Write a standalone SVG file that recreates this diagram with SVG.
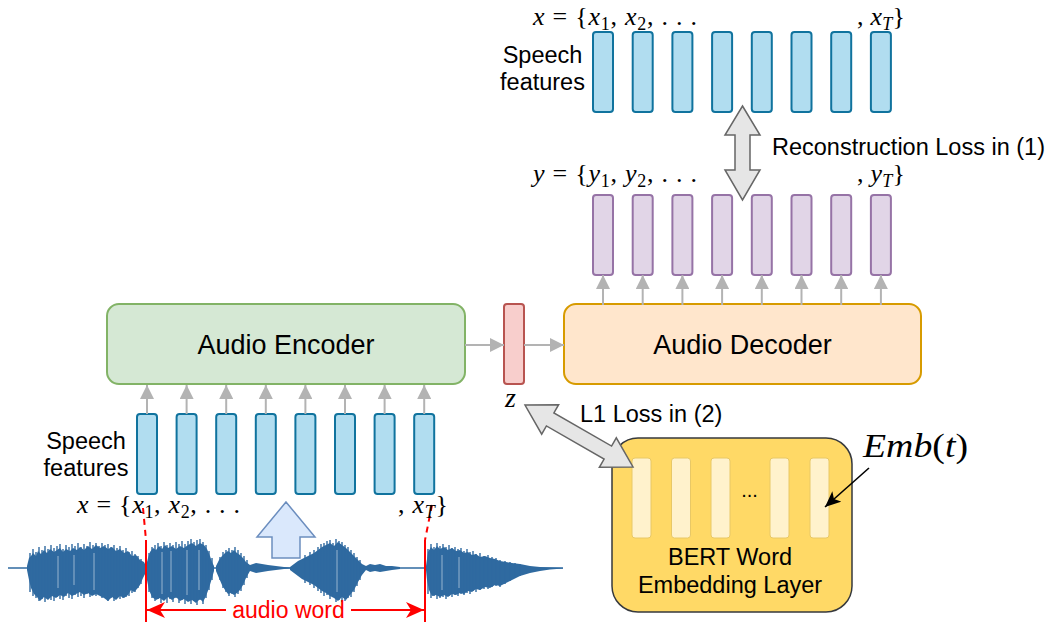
<svg xmlns="http://www.w3.org/2000/svg" width="1052" height="625" viewBox="0 0 1052 625">
<defs>
<style>
.sans{font-family:"Liberation Sans",Arial,sans-serif;fill:#000}
.math{font-family:"Liberation Serif","DejaVu Serif",serif;fill:#000}
.it{font-style:italic}
.feat{fill:#b1ddf0;stroke:#10739e;stroke-width:2}
.dec{fill:#e1d5e7;stroke:#9673a6;stroke-width:2}
.emb{fill:#fff2cc;stroke:#e8c866;stroke-width:1}
.garrow{stroke:#b3b3b3;stroke-width:2;fill:none;marker-end:url(#gh)}
.wave{fill:#2f6aa0}
.red{stroke:#ff0000;stroke-width:2;fill:none}
</style>
<marker id="gh" markerUnits="userSpaceOnUse" markerWidth="16" markerHeight="14" refX="14" refY="7" orient="auto">
<path d="M0,0 L14,7 L0,14 Z" fill="#b3b3b3"/>
</marker>
<marker id="rh" markerUnits="userSpaceOnUse" markerWidth="20" markerHeight="18" refX="18" refY="9" orient="auto">
<path d="M0,1 L18,9 L0,17 L5,9 Z" fill="#ff0000"/>
</marker>
<marker id="bh" markerUnits="userSpaceOnUse" markerWidth="18" markerHeight="14" refX="16" refY="7" orient="auto">
<path d="M0,0 L16,7 L0,14 L4,7 Z" fill="#000"/>
</marker>
</defs>
<rect width="1052" height="625" fill="#fff"/>

<!-- waveform -->
<g id="waveform">
<line x1="8" y1="568" x2="563" y2="568" stroke="#2f6aa0" stroke-width="1.6"/>
<polygon class="wave" points="27,566 29,558 31,556 33,553 36,556 38,551 41,554 44,550 47,553 50,549 54,552 57,550 60,548 63,552 66,549 70,551 73,548 77,550 80,547 84,550 88,546 92,549 96,545 100,548 104,546 108,549 112,547 116,551 120,549 124,553 128,551 132,556 136,555 140,560 144,562 146,566 146,572 143,578 140,585 137,589 134,592 131,590 128,595 124,598 120,596 116,600 112,597 108,601 104,598 100,596 96,594 92,596 88,593 84,595 80,592 76,594 72,596 68,593 64,597 60,595 56,598 52,596 48,600 44,597 40,601 37,597 34,594 31,588 29,580 27,570"/>
<polygon class="wave" points="146,566 148,558 150,552 153,548 156,550 159,546 162,549 165,545 168,548 172,546 176,549 180,546 184,548 188,545 192,543 196,546 200,543 204,545 207,549 210,556 212,562 214,566 214,571 212,578 209,588 206,596 203,602 200,599 196,603 192,600 188,602 184,599 180,601 176,597 172,600 168,597 164,601 160,598 156,600 152,597 149,590 147,580 146,572"/>
<polygon class="wave" points="216,566 219,560 222,556 225,553 228,551 231,553 234,550 237,553 240,555 243,558 246,562 250,565 256,563 262,564 268,565 276,566 284,567 290,567.5 290,568.5 284,569 276,570 268,571 262,572 256,573 250,571 246,578 243,585 240,590 237,593 234,595 231,593 228,594 225,590 222,585 219,578 216,571"/>
<polygon class="wave" points="290,567 294,564 298,561 302,559 306,557 310,555 314,553 318,550 322,547 326,545 330,543 334,546 338,542 342,545 346,548 350,552 354,556 358,560 362,564 366,566 370,564 375,565 380,564 386,566 392,566 400,567 400,569 392,570 386,571 380,572 375,571 370,572 366,570 362,575 358,582 354,590 350,595 346,600 342,597 338,601 334,598 330,596 326,593 322,591 318,588 314,585 310,583 306,581 302,579 298,576 294,573 290,570"/>
<polygon class="wave" points="426,566 428,552 431,547 434,550 437,546 440,549 444,547 448,550 452,548 456,551 460,550 464,553 468,552 472,555 476,554 480,557 485,556 490,558 495,559 500,561 506,562 512,563 520,564 530,566 540,567 550,567.5 563,568 563,568.5 550,569.5 540,571 530,573 520,576 512,580 506,583 500,586 495,585 490,588 485,587 480,590 476,589 472,592 468,591 464,594 460,593 456,595 452,594 448,597 444,595 440,597 436,595 432,596 429,590 427,580 426,570"/>
<path stroke="#2f6aa0" stroke-width="1.4" fill="none" d="M30,553V592M33,549V596M36,552V598M39,547V601M42,550V599M45,546V602M48,549V598M51,545V600M54,548V601M57,546V597M60,544V599M63,549V600M66,545V596M69,547V598M72,544V599M75,546V595M78,543V597M81,547V596M84,544V598M87,546V594M90,542V597M93,545V595M96,543V596M99,546V593M102,543V598M105,545V596M108,544V601M111,547V598M114,545V601M117,548V597M120,546V599M123,550V598M126,548V597M129,552V596M132,551V593M135,554V592M138,556V588M141,559V584M149,553V592M152,547V598M155,545V601M158,543V599M161,546V603M164,542V600M167,545V603M170,543V599M173,545V602M176,542V598M179,544V603M182,541V600M185,544V604M188,541V601M191,539V604M194,542V601M197,540V605M200,539V600M203,542V604M206,545V598M209,551V590M212,558V580M220,557V580M223,552V588M226,550V592M229,548V596M232,550V594M235,547V597M238,550V594M241,553V591M244,556V585M247,560V578M305,555V583M310,552V585M314,550V588M318,547V591M321,544V593M324,543V596M327,541V595M330,540V599M333,543V597M336,539V602M339,541V600M342,542V602M345,545V601M348,547V598M351,550V597M354,553V592M357,557V586M360,560V580M428,549V594M431,544V598M434,547V596M437,543V599M440,546V598M443,544V597M446,547V599M449,545V596M452,548V597M455,547V595M458,549V596M461,548V594M464,551V595M467,549V593M470,552V594M473,551V591M476,554V592M480,553V590M484,556V589M488,555V589M492,557V587M496,558V586M500,560V587M505,561V584M510,562V581M515,563V578M520,564V576"/>
<g stroke="#fff" stroke-width="1" opacity="0.5">
<line x1="58" y1="556" x2="58" y2="588"/><line x1="74" y1="555" x2="74" y2="585"/><line x1="94" y1="553" x2="94" y2="590"/>
<line x1="162" y1="552" x2="162" y2="594"/><line x1="171" y1="551" x2="171" y2="592"/><line x1="187" y1="550" x2="187" y2="595"/><line x1="199" y1="550" x2="199" y2="590"/>
<line x1="337" y1="550" x2="337" y2="592"/><line x1="442" y1="555" x2="442" y2="590"/><line x1="459" y1="557" x2="459" y2="588"/>
</g>
</g>

<!-- big input arrow -->
<g id="input-arrow">
<polygon points="286,502 315,537 300,537 300,558 272,558 272,537 257,537" fill="#dae8fc" stroke="#6c8ebf" stroke-width="1.5"/>
</g>

<!-- audio word span -->
<g id="audio-word">
<line class="red" x1="143" y1="508" x2="146" y2="540" stroke-dasharray="6,5"/>
<line class="red" x1="146" y1="540" x2="146" y2="622"/>
<line class="red" x1="432" y1="505" x2="425" y2="540" stroke-dasharray="6,5"/>
<line class="red" x1="425" y1="540" x2="425" y2="622"/>
<line class="red" x1="226" y1="610" x2="147" y2="610" marker-end="url(#rh)"/>
<line class="red" x1="351" y1="610" x2="424" y2="610" marker-end="url(#rh)"/>
<text x="288.5" y="618" class="sans" font-size="23" text-anchor="middle" style="fill:#ff0000">audio word</text>
</g>

<!-- input speech features -->
<g id="input-features">
<rect class="feat" x="137" y="414" width="20" height="80" rx="3"/>
<rect class="feat" x="176.6" y="414" width="20" height="80" rx="3"/>
<rect class="feat" x="216.2" y="414" width="20" height="80" rx="3"/>
<rect class="feat" x="255.8" y="414" width="20" height="80" rx="3"/>
<rect class="feat" x="295.4" y="414" width="20" height="80" rx="3"/>
<rect class="feat" x="335" y="414" width="20" height="80" rx="3"/>
<rect class="feat" x="374.6" y="414" width="20" height="80" rx="3"/>
<rect class="feat" x="414.2" y="414" width="20" height="80" rx="3"/>
<text class="sans" font-size="23.5" text-anchor="middle"><tspan x="86" y="449">Speech</tspan><tspan x="86" y="476">features</tspan></text>
<text class="math" font-size="26" x="77" y="513" textLength="163" lengthAdjust="spacing"><tspan class="it">x</tspan> = {<tspan class="it">x</tspan><tspan font-size="18" dy="5">1</tspan><tspan dy="-5">, </tspan><tspan class="it">x</tspan><tspan font-size="18" dy="5">2</tspan><tspan dy="-5">, . . .</tspan></text>
<text class="math" font-size="26" x="398" y="513" textLength="50" lengthAdjust="spacing">, <tspan class="it">x</tspan><tspan font-size="18" dy="5" class="it">T</tspan><tspan dy="-5">}</tspan></text>
</g>

<!-- encoder -->
<g id="audio-encoder">
<rect x="107" y="304" width="358" height="80" rx="12" fill="#d5e8d4" stroke="#82b366" stroke-width="2"/>
<text x="286" y="354" class="sans" font-size="27" text-anchor="middle">Audio Encoder</text>
</g>

<!-- z -->
<g id="latent-z">
<rect x="504" y="304" width="20" height="80" rx="3" fill="#f8cecc" stroke="#b85450" stroke-width="2"/>
<text x="505" y="407" class="math it" font-size="28">z</text>
</g>

<!-- decoder -->
<g id="audio-decoder">
<rect x="564" y="304" width="357" height="80" rx="12" fill="#ffe6cc" stroke="#d79b00" stroke-width="2"/>
<text x="742.5" y="354" class="sans" font-size="27" text-anchor="middle">Audio Decoder</text>
</g>

<!-- output y -->
<g id="output-features">
<rect class="dec" x="593" y="195" width="20" height="80" rx="3"/>
<rect class="dec" x="632.7" y="195" width="20" height="80" rx="3"/>
<rect class="dec" x="672.4" y="195" width="20" height="80" rx="3"/>
<rect class="dec" x="712.1" y="195" width="20" height="80" rx="3"/>
<rect class="dec" x="751.8" y="195" width="20" height="80" rx="3"/>
<rect class="dec" x="791.5" y="195" width="20" height="80" rx="3"/>
<rect class="dec" x="831.2" y="195" width="20" height="80" rx="3"/>
<rect class="dec" x="870.9" y="195" width="20" height="80" rx="3"/>
<text class="math" font-size="26" x="533" y="182" textLength="164" lengthAdjust="spacing"><tspan class="it">y</tspan> = {<tspan class="it">y</tspan><tspan font-size="18" dy="5">1</tspan><tspan dy="-5">, </tspan><tspan class="it">y</tspan><tspan font-size="18" dy="5">2</tspan><tspan dy="-5">, . . .</tspan></text>
<text class="math" font-size="26" x="857" y="182" textLength="48" lengthAdjust="spacing">, <tspan class="it">y</tspan><tspan font-size="18" dy="5" class="it">T</tspan><tspan dy="-5">}</tspan></text>
</g>

<!-- target speech features -->
<g id="target-features">
<rect class="feat" x="593" y="32" width="20" height="80" rx="3"/>
<rect class="feat" x="632.7" y="32" width="20" height="80" rx="3"/>
<rect class="feat" x="672.4" y="32" width="20" height="80" rx="3"/>
<rect class="feat" x="712.1" y="32" width="20" height="80" rx="3"/>
<rect class="feat" x="751.8" y="32" width="20" height="80" rx="3"/>
<rect class="feat" x="791.5" y="32" width="20" height="80" rx="3"/>
<rect class="feat" x="831.2" y="32" width="20" height="80" rx="3"/>
<rect class="feat" x="870.9" y="32" width="20" height="80" rx="3"/>
<text class="sans" font-size="23.5" text-anchor="middle"><tspan x="542.5" y="63">Speech</tspan><tspan x="542.5" y="90">features</tspan></text>
<text class="math" font-size="26" x="533" y="25" textLength="164" lengthAdjust="spacing"><tspan class="it">x</tspan> = {<tspan class="it">x</tspan><tspan font-size="18" dy="5">1</tspan><tspan dy="-5">, </tspan><tspan class="it">x</tspan><tspan font-size="18" dy="5">2</tspan><tspan dy="-5">, . . .</tspan></text>
<text class="math" font-size="26" x="857" y="25" textLength="48" lengthAdjust="spacing">, <tspan class="it">x</tspan><tspan font-size="18" dy="5" class="it">T</tspan><tspan dy="-5">}</tspan></text>
</g>

<!-- reconstruction loss -->
<g id="reconstruction-loss">
<polygon points="742.5,106 760,135 750,135 750,170 760,170 742.5,200 725,170 735,170 735,135 725,135" fill="#e6e6e6" stroke="#666" stroke-width="1.5"/>
<text x="772" y="155" class="sans" font-size="23.5">Reconstruction Loss in (1)</text>
</g>

<!-- BERT -->
<g id="bert-embedding">
<rect x="612" y="438" width="240" height="174" rx="26" fill="#ffd966" stroke="#36393d" stroke-width="1.5"/>
<rect class="emb" x="632" y="458" width="19" height="80" rx="3"/>
<rect class="emb" x="671.5" y="458" width="19" height="80" rx="3"/>
<rect class="emb" x="711" y="458" width="19" height="80" rx="3"/>
<rect class="emb" x="770" y="458" width="19" height="80" rx="3"/>
<rect class="emb" x="810" y="458" width="19" height="80" rx="3"/>
<text x="749.5" y="497" class="sans" font-size="20" text-anchor="middle">...</text>
<text class="sans" font-size="23.5" text-anchor="middle"><tspan x="730" y="565">BERT Word</tspan><tspan x="730" y="593">Embedding Layer</tspan></text>
<text x="863" y="457" class="math" font-size="33" textLength="105" lengthAdjust="spacingAndGlyphs"><tspan class="it">Emb</tspan>(<tspan class="it">t</tspan>)</text>
</g>

<!-- L1 loss -->
<g id="l1-loss">
<polygon points="525,405 558.63,404.69 553.90,412.93 611.58,446.05 616.31,437.81 633,467 599.37,467.31 604.10,459.07 546.42,425.95 541.69,434.19" fill="#e6e6e6" stroke="#666" stroke-width="1.5"/>
<text x="580" y="422" class="sans" font-size="23.5">L1 Loss in (2)</text>
</g>

<!-- connectors -->
<g id="connectors">
<line class="garrow" x1="147" y1="414" x2="147" y2="385"/>
<line class="garrow" x1="186.6" y1="414" x2="186.6" y2="385"/>
<line class="garrow" x1="226.2" y1="414" x2="226.2" y2="385"/>
<line class="garrow" x1="265.8" y1="414" x2="265.8" y2="385"/>
<line class="garrow" x1="305.4" y1="414" x2="305.4" y2="385"/>
<line class="garrow" x1="345" y1="414" x2="345" y2="385"/>
<line class="garrow" x1="384.6" y1="414" x2="384.6" y2="385"/>
<line class="garrow" x1="424.2" y1="414" x2="424.2" y2="385"/>
<line class="garrow" x1="465" y1="345" x2="504" y2="345"/>
<line class="garrow" x1="524" y1="345" x2="564" y2="345"/>
<line class="garrow" x1="603" y1="305" x2="603" y2="275"/>
<line class="garrow" x1="642.7" y1="305" x2="642.7" y2="275"/>
<line class="garrow" x1="682.4" y1="305" x2="682.4" y2="275"/>
<line class="garrow" x1="722.1" y1="305" x2="722.1" y2="275"/>
<line class="garrow" x1="761.8" y1="305" x2="761.8" y2="275"/>
<line class="garrow" x1="801.5" y1="305" x2="801.5" y2="275"/>
<line class="garrow" x1="841.2" y1="305" x2="841.2" y2="275"/>
<line class="garrow" x1="880.9" y1="305" x2="880.9" y2="275"/>
<line x1="869" y1="468" x2="825" y2="507" stroke="#000" stroke-width="1.6" marker-end="url(#bh)"/>
</g>
</svg>
